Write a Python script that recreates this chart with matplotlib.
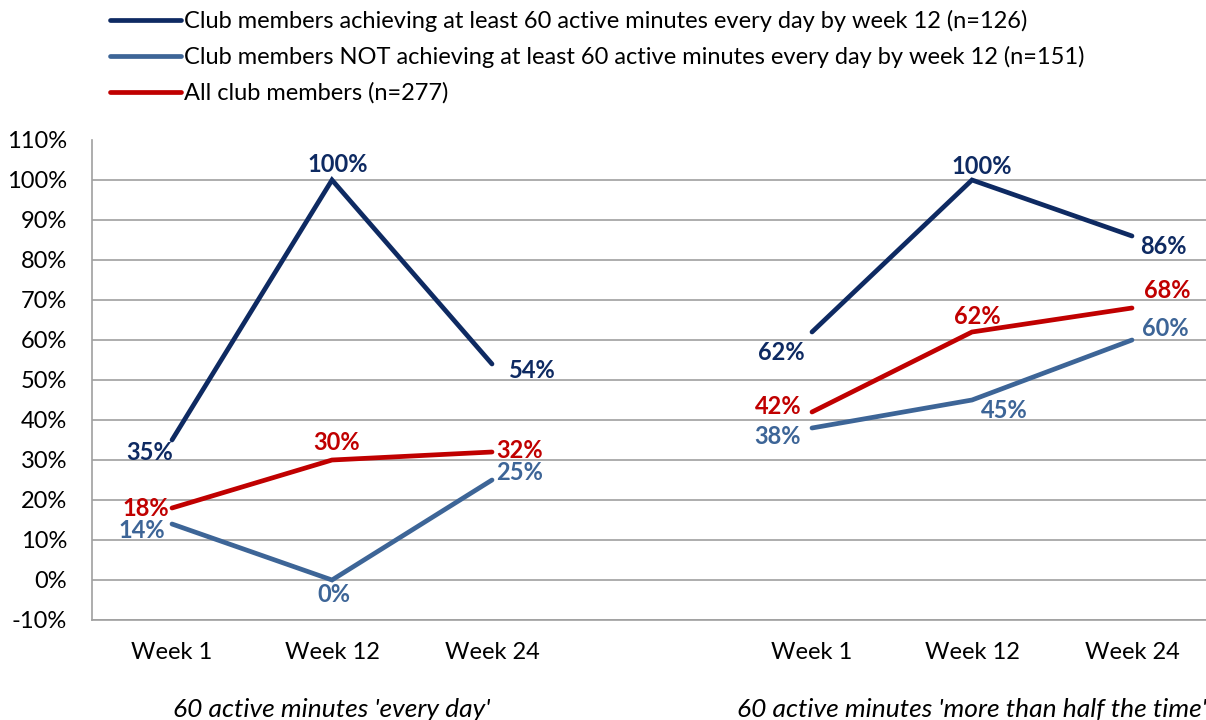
import numpy as np
import matplotlib.pyplot as plt
from matplotlib.ticker import PercentFormatter

# categories (the blank one separates the two groups)
weeks = ["Week 1", "Week 12", "Week 24", "", "Week 1", "Week 12", "Week 24"]
groups = ["60 active minutes 'every day'", "60 active minutes 'more than half the time'"]

achieving = [35, 100, 54, np.nan, 62, 100, 86]
not_achieving = [14, 0, 25, np.nan, 38, 45, 60]
all_members = [18, 30, 32, np.nan, 42, 62, 68]

names = [
    "Club members achieving at least 60 active minutes every day by week 12 (n=126)",
    "Club members NOT achieving at least 60 active minutes every day by week 12 (n=151)",
    "All club members (n=277)",
]
colors = ["#0E2A62", "#3D6597", "#C00000"]

# label offsets in pixels (dx, dy), one per point
offsets = [
    [(-22, -12), (6, 16), (40, -6), None, (-31, -20), (10, 14), (31, -10)],
    [(-30, -6), (2, -14), (28, 7), None, (-34, -8), (32, -10), (33, 12)],
    [(-26, -1), (5, 18), (28, 1), None, (-34, 6), (5, 16), (35, 18)],
]

plt.rcParams['font.family'] = ['Lato', 'DejaVu Sans']
plt.rcParams['axes.unicode_minus'] = False
fs = 17

fig = plt.figure(figsize=(12.06, 7.2), dpi=100)
W, H = 1206, 720
ax = fig.add_axes([92 / W, 100 / H, (1212 - 92) / W, 480 / H])

x = np.arange(len(weeks))
series = [achieving, not_achieving, all_members]
lines = []
for vals, c, name, offs in zip(series, colors, names, offsets):
    ln, = ax.plot(x, vals, color=c, lw=3.4, solid_capstyle='round',
                  solid_joinstyle='miter', label=name, zorder=3)
    lines.append(ln)
    for xi, v, o in zip(x, vals, offs):
        if np.isnan(v) or o is None:
            continue
        ax.annotate(f"{v:.0f}%", (xi, v), xytext=(o[0] * 0.72, o[1] * 0.72),
                    textcoords='offset points', ha='center', va='center',
                    color=c, fontsize=fs, fontweight='bold', zorder=4)

ax.set_xlim(-0.5, 6.5)
ax.set_ylim(-10, 110)
ax.set_yticks(np.arange(-10, 111, 10))
ax.yaxis.set_major_formatter(PercentFormatter(decimals=0))
ax.set_xticks(x)
ax.set_xticklabels(weeks)
ax.tick_params(axis='both', length=0, labelsize=fs, colors='black')
ax.tick_params(axis='y', pad=18)
ax.tick_params(axis='x', pad=16)
ax.grid(axis='y', color='#A0A0A0', lw=1.2)
ax.set_axisbelow(True)
for s in ['top', 'right']:
    ax.spines[s].set_visible(False)
for s in ['left', 'bottom']:
    ax.spines[s].set_color('#A0A0A0')
    ax.spines[s].set_linewidth(1.2)
# no gridline at 110%
ax.get_ygridlines()[-1].set_visible(False)

ax.text(1, -0.187, groups[0], transform=ax.get_xaxis_transform(),
        ha='center', va='center', fontsize=19, style='italic')
ax.text(5, -0.187, groups[1], transform=ax.get_xaxis_transform(),
        ha='center', va='center', fontsize=19, style='italic')

fig.legend(handles=lines, loc='upper left', bbox_to_anchor=(110 / W, 1 - 10 / H),
           frameon=False, fontsize=fs, handlelength=3.0, handletextpad=0.15,
           labelspacing=0.6, borderaxespad=0, borderpad=0)

fig.savefig("out.png", dpi=100)
